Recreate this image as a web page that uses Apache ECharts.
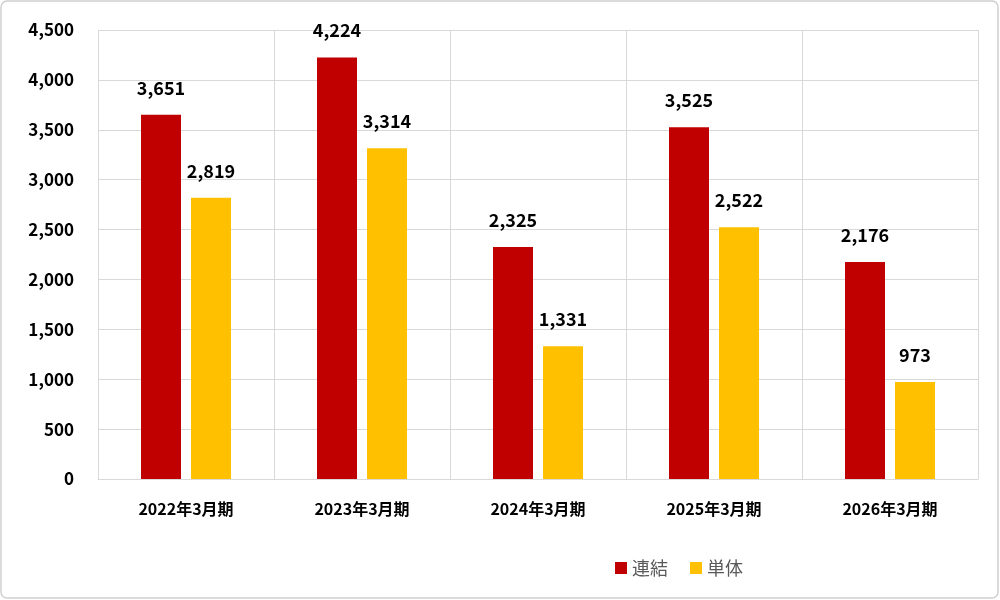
<!DOCTYPE html>
<html><head><meta charset="utf-8">
<script src="https://cdn.jsdelivr.net/npm/echarts@6/dist/echarts.min.js"></script>
<style>html,body{margin:0;padding:0;background:#fff}#c{width:1000px;height:600px}</style>
</head><body><div id="c"></div>
<script>
const categories = ['2022年3月期','2023年3月期','2024年3月期','2025年3月期','2026年3月期'];
const consolidated = [3651, 4224, 2325, 3525, 2176];
const standalone = [2819, 3314, 1331, 2522, 973];
const font = '"Noto Sans CJK JP","Liberation Sans",sans-serif';
const chart = echarts.init(document.getElementById('c'));
chart.setOption({
  animation:false,
  graphic:[{type:'rect',shape:{x:1,y:1,width:997,height:597,r:6},style:{fill:'none',stroke:'#d0d0d0',lineWidth:1.5}}],
  grid:{left:98,right:22,top:30,bottom:121},
  legend:{bottom:18,left:610,itemWidth:12,itemHeight:12,itemGap:22,icon:'rect',
    textStyle:{fontFamily:font,fontSize:18,color:'#595959'},data:['連結','単体']},
  xAxis:{type:'category',data:categories,
    axisLine:{lineStyle:{color:'#d9d9d9'}},axisTick:{show:false},
    splitLine:{show:true,lineStyle:{color:'#d9d9d9'}},
    axisLabel:{fontFamily:font,fontSize:16,fontWeight:'bold',color:'#000',margin:22}},
  yAxis:{type:'value',min:0,max:4500,interval:500,
    axisLine:{show:false},axisTick:{show:false},
    splitLine:{lineStyle:{color:'#d9d9d9'}},
    axisLabel:{fontFamily:font,fontSize:17,fontWeight:'bold',color:'#000',margin:24,
      formatter:v=>v.toLocaleString('en-US')}},
  series:[
    {name:'連結',type:'bar',data:consolidated,barWidth:40,barGap:'25%',itemStyle:{color:'#c00000'},
     label:{show:true,position:'top',distance:18,fontFamily:font,fontSize:18,fontWeight:'bold',color:'#000',formatter:p=>p.value.toLocaleString('en-US')}},
    {name:'単体',type:'bar',data:standalone,barWidth:40,itemStyle:{color:'#ffc000'},
     label:{show:true,position:'top',distance:18,fontFamily:font,fontSize:18,fontWeight:'bold',color:'#000',formatter:p=>p.value.toLocaleString('en-US')}}
  ]
});
</script></body></html>
